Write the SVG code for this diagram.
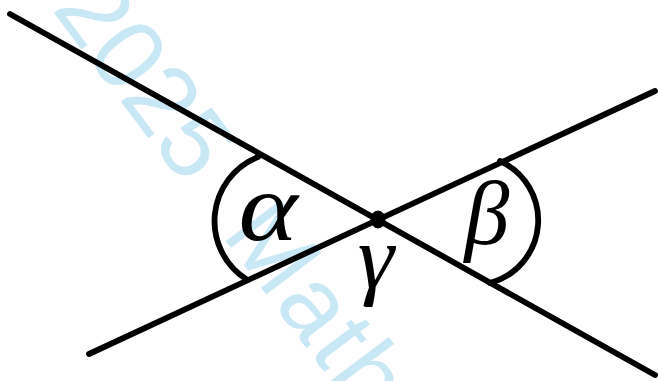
<svg xmlns="http://www.w3.org/2000/svg" width="658" height="381" viewBox="0 0 658 381">
<style>
.ln{stroke:#000;stroke-width:5.8;stroke-linecap:round;fill:none}
.lbl{font-family:"Liberation Serif","DejaVu Serif",serif;font-style:italic;fill:#000;text-anchor:middle}
.wm{font-family:"Liberation Sans","DejaVu Sans",sans-serif;fill:#c9e8f5}
</style>
<rect width="658" height="381" fill="#fff"/>
<text class="wm" font-size="100" transform="translate(51,9) rotate(53)">2025<tspan dx="60" letter-spacing="3">Math</tspan></text>
<g id="connectors">
<path class="ln" d="M10,14 L655,375"/>
<path class="ln" d="M89,354 L655,91"/>
</g>
<g id="angle-alpha">
<path class="ln" d="M258,157 A69,69 0 0 0 246,279"/>
<text class="lbl" transform="translate(268,240) scale(1.15,1)" font-size="98">α</text>
</g>
<g id="angle-beta">
<path class="ln" d="M500,161 A65,65 0 0 1 490,283"/>
<text class="lbl" x="487" y="244" font-size="90">β</text>
</g>
<g id="vertex">
<ellipse cx="378" cy="219.5" rx="7.5" ry="9" fill="#000"/>
<text class="lbl" x="376" y="288" font-size="92">γ</text>
</g>
</svg>
